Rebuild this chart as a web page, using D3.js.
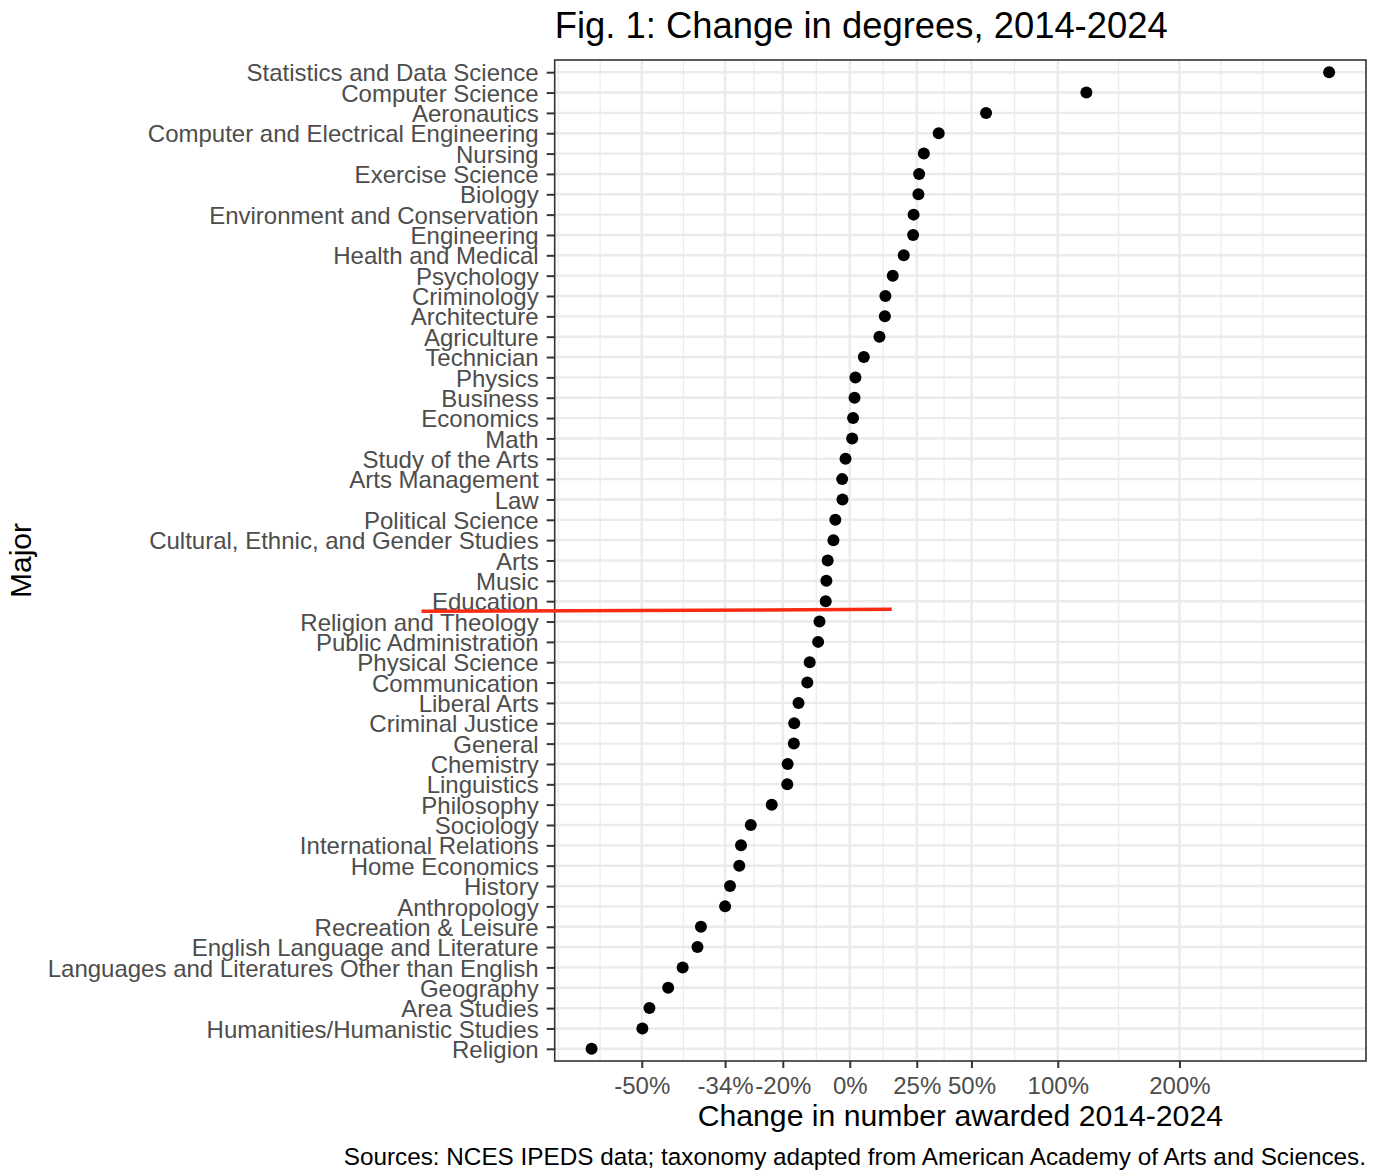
<!DOCTYPE html>
<html>
<head>
<meta charset="utf-8">
<script src="https://cdn.jsdelivr.net/npm/d3@7"></script>
<style>
  body { margin: 0; background: #fff; }
  text { font-family: "Liberation Sans", Arial, Helvetica, sans-serif; }
</style>
</head>
<body>
<div id="chart"></div>
<script>
// Majors, top to bottom
const majors = [
  "Statistics and Data Science", "Computer Science", "Aeronautics",
  "Computer and Electrical Engineering", "Nursing", "Exercise Science", "Biology",
  "Environment and Conservation", "Engineering", "Health and Medical", "Psychology",
  "Criminology", "Architecture", "Agriculture", "Technician", "Physics", "Business",
  "Economics", "Math", "Study of the Arts", "Arts Management", "Law",
  "Political Science", "Cultural, Ethnic, and Gender Studies", "Arts", "Music",
  "Education", "Religion and Theology", "Public Administration", "Physical Science",
  "Communication", "Liberal Arts", "Criminal Justice", "General", "Chemistry",
  "Linguistics", "Philosophy", "Sociology", "International Relations",
  "Home Economics", "History", "Anthropology", "Recreation & Leisure",
  "English Language and Literature", "Languages and Literatures Other than English",
  "Geography", "Area Studies", "Humanities/Humanistic Studies", "Religion"
];

// percent change in degrees awarded, 2014-2024
const changePct = [
  394, 120, 57.5,
  34.5, 28, 26, 25.7,
  23.7, 23.5, 19.7, 15.4,
  12.6, 12.4, 10.4, 4.8, 1.9, 1.6,
  1.1, 0.8, -1.4, -2.5, -2.4,
  -4.7, -5.3, -7.1, -7.5,
  -7.7, -9.6, -10, -12.5,
  -13.2, -15.7, -16.9, -17, -18.7,
  -18.8, -22.9, -28.1, -30.4,
  -30.8, -32.9, -34, -39.1,
  -39.8, -42.7,
  -45.4, -48.7, -49.9, -57.7
];

const xTickValues = [-50, -34, -20, 0, 25, 50, 100, 200];
const xTickLabels = ["-50%", "-34%", "-20%", "0%", "25%", "50%", "100%", "200%"];

// hand-drawn red divider: sits just below this major, spans these % values
const dividerAfter = "Education";
const dividerFrom = -76, dividerTo = 15;

const svgWidth = 1376, svgHeight = 1176;
const panel = { left: 554.7, right: 1366, top: 60, bottom: 1061 };

const svg = d3.select("#chart")
  .append("svg")
  .attr("width", svgWidth)
  .attr("height", svgHeight);

const ratio = p => 1 + p / 100;

// log x scale with ggplot-style 5% expansion in log space
const lo = Math.log2(d3.min(changePct, ratio)),
      hi = Math.log2(d3.max(changePct, ratio)),
      pad = (hi - lo) * 0.05;
const x = d3.scaleLog()
  .base(2)
  .domain([2 ** (lo - pad), 2 ** (hi + pad)])
  .range([panel.left, panel.right]);

const y = d3.scalePoint()
  .domain(majors)
  .range([panel.top, panel.bottom])
  .padding(0.6);

// minor breaks the way ggplot does it: midpoints, extended one step past the ends
const bLog = xTickValues.map(v => Math.log2(ratio(v)));
const step = bLog[1] - bLog[0];
const [dLo, dHi] = x.domain().map(Math.log2);
let ext = bLog.slice();
if (dLo < ext[0]) ext.unshift(ext[0] - step);
if (dHi > ext[ext.length - 1]) ext.push(ext[ext.length - 1] + step);
const minorLog = [];
for (let i = 0; i < ext.length - 1; i++) minorLog.push(ext[i], (ext[i] + ext[i + 1]) / 2);
minorLog.push(ext[ext.length - 1]);
const minorBreaks = minorLog.map(v => 2 ** v).filter(v => v > x.domain()[0] && v < x.domain()[1]);

const grid = svg.append("g");
grid.selectAll(".minor")
  .data(minorBreaks)
  .enter().append("line")
  .attr("x1", d => x(d)).attr("x2", d => x(d))
  .attr("y1", panel.top).attr("y2", panel.bottom)
  .attr("stroke", "#ebebeb").attr("stroke-width", 1.2);

grid.selectAll(".majorx")
  .data(xTickValues)
  .enter().append("line")
  .attr("x1", d => x(ratio(d))).attr("x2", d => x(ratio(d)))
  .attr("y1", panel.top).attr("y2", panel.bottom)
  .attr("stroke", "#ebebeb").attr("stroke-width", 2.4);

grid.selectAll(".majory")
  .data(majors)
  .enter().append("line")
  .attr("x1", panel.left).attr("x2", panel.right)
  .attr("y1", d => y(d)).attr("y2", d => y(d))
  .attr("stroke", "#ebebeb").attr("stroke-width", 2.4);

// points
svg.append("g").selectAll("circle")
  .data(majors)
  .enter().append("circle")
  .attr("cx", (d, i) => x(ratio(changePct[i])))
  .attr("cy", d => y(d))
  .attr("r", 6)
  .attr("fill", "#000");

// panel border
svg.append("rect")
  .attr("x", panel.left).attr("y", panel.top)
  .attr("width", panel.right - panel.left)
  .attr("height", panel.bottom - panel.top)
  .attr("fill", "none")
  .attr("stroke", "#333").attr("stroke-width", 1.6);

// axes
const yAxis = svg.append("g")
  .attr("transform", `translate(${panel.left},0)`)
  .call(d3.axisLeft(y).tickSize(8).tickPadding(8));

const xAxis = svg.append("g")
  .attr("transform", `translate(0,${panel.bottom})`)
  .call(d3.axisBottom(x)
    .tickValues(xTickValues.map(ratio))
    .tickFormat((d, i) => xTickLabels[i])
    .tickSize(7).tickPadding(9));

[yAxis, xAxis].forEach(a => {
  a.select(".domain").remove();
  a.selectAll(".tick line").attr("stroke", "#333").attr("stroke-width", 2);
  a.selectAll(".tick text")
    .attr("fill", "#4d4d4d")
    .style("font-size", "24px");
});
yAxis.selectAll(".tick text").attr("dy", "0.36em");

// red divider annotation
const yDiv = (y(dividerAfter) + y(majors[majors.indexOf(dividerAfter) + 1])) / 2 - 1;
svg.append("line")
  .attr("x1", x(ratio(dividerFrom))).attr("x2", x(ratio(dividerTo)))
  .attr("y1", yDiv + 1).attr("y2", yDiv - 1)
  .attr("stroke", "#fb2a12").attr("stroke-width", 3.5);

// titles
svg.append("text")
  .attr("x", panel.left).attr("y", 38)
  .style("font-size", "36.4px")
  .attr("fill", "#000")
  .text("Fig. 1: Change in degrees, 2014-2024");

svg.append("text")
  .attr("x", (panel.left + panel.right) / 2).attr("y", 1126)
  .attr("text-anchor", "middle")
  .style("font-size", "30.2px")
  .attr("fill", "#000")
  .text("Change in number awarded 2014-2024");

svg.append("text")
  .attr("transform", `translate(31,${(panel.top + panel.bottom) / 2}) rotate(-90)`)
  .attr("text-anchor", "middle")
  .style("font-size", "30px")
  .attr("fill", "#000")
  .text("Major");

svg.append("text")
  .attr("x", panel.right).attr("y", 1165)
  .attr("text-anchor", "end")
  .style("font-size", "24.3px")
  .attr("fill", "#000")
  .text("Sources: NCES IPEDS data; taxonomy adapted from American Academy of Arts and Sciences.");
</script>
</body>
</html>
